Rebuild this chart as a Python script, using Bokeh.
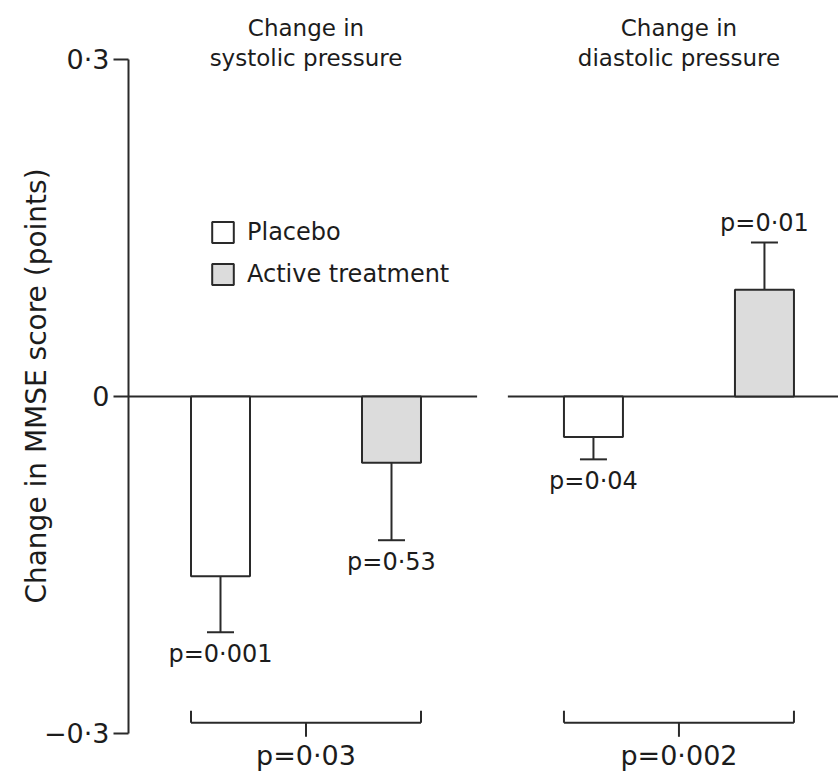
from bokeh.plotting import figure
from bokeh.models import Range1d, FixedTicker, Legend, LegendItem
from bokeh.core.properties import value
from bokeh.embed import file_html
from bokeh.resources import INLINE

# ---------------- data ----------------
groups = ["systolic", "diastolic"]
title_line1 = ["Change in", "Change in"]
title_line2 = ["systolic pressure", "diastolic pressure"]
series = ["Placebo", "Active treatment"]
placebo_mean = [-0.160, -0.036]
placebo_err_end = [-0.210, -0.056]
active_mean = [-0.059, 0.095]
active_err_end = [-0.128, 0.137]
placebo_p = ["p=0·001", "p=0·04"]
active_p = ["p=0·53", "p=0·01"]
group_p = ["p=0·03", "p=0·002"]
y_ticks = [-0.3, 0, 0.3]
y_tick_labels = ["−0·3", "0", "0·3"]

# ---------------- layout / style ----------------
FONT = value("DejaVu Sans")
INK = "#1c1c1c"
LINE = "#2a2a2a"
GROUP_STEP = 2.181
BAR_W = 0.345
ZERO_GAP = 0.09

p = figure(width=838, height=771,
           x_range=Range1d(-0.538, 3.614), y_range=Range1d(-0.3339, 0.3525),
           output_backend="svg", toolbar_location=None, x_axis_type=None,
           min_border_left=128, min_border_right=0, min_border_top=0, min_border_bottom=0)
p.outline_line_color = None
p.ygrid.visible = False
p.background_fill_color = "white"

x_pl = [gi * GROUP_STEP + 0 for gi in range(len(groups))]
x_ac = [gi * GROUP_STEP + 1 for gi in range(len(groups))]
centers = [(a + b) / 2 for a, b in zip(x_pl, x_ac)]

# zero line, broken between the two groups
xr = p.x_range
mid = (x_ac[0] + x_pl[1]) / 2
p.segment(x0=[xr.start, mid + ZERO_GAP], y0=[0, 0], x1=[mid - ZERO_GAP, xr.end], y1=[0, 0],
          line_color=LINE, line_width=2)

# bars
r_pl = p.vbar(x=x_pl, top=placebo_mean, bottom=0, width=BAR_W,
              fill_color="white", line_color=LINE, line_width=2)
r_ac = p.vbar(x=x_ac, top=active_mean, bottom=0, width=BAR_W,
              fill_color="#dcdcdc", line_color=LINE, line_width=2)

# error bars (one-sided, away from zero)
xs_all = x_pl + x_ac
means_all = placebo_mean + active_mean
errs_all = placebo_err_end + active_err_end
p.segment(x0=xs_all, y0=means_all, x1=xs_all, y1=errs_all, line_color=LINE, line_width=2)
p.scatter(x=xs_all, y=errs_all, marker="dash", size=27, line_color=LINE, line_width=2)

# p-values at bars
labels_all = placebo_p + active_p
neg = [(x, e - 0.007, t) for x, e, t in zip(xs_all, errs_all, labels_all) if e < 0]
pos = [(x, e + 0.017, t) for x, e, t in zip(xs_all, errs_all, labels_all) if e >= 0]
p.text(x=[a for a, _, _ in neg], y=[b for _, b, _ in neg], text=[c for _, _, c in neg],
       text_align="center", text_baseline="top", text_font=FONT,
       text_font_size="24px", text_color=INK)
p.text(x=[a for a, _, _ in pos], y=[b for _, b, _ in pos], text=[c for _, _, c in pos],
       text_align="center", text_baseline="alphabetic", text_font=FONT,
       text_font_size="24px", text_color=INK)

# group titles
p.text(x=centers, y=[0.328] * len(centers), text=title_line1, text_align="center",
       text_baseline="alphabetic", text_font=FONT, text_font_size="23px", text_color=INK)
p.text(x=centers, y=[0.301] * len(centers), text=title_line2, text_align="center",
       text_baseline="alphabetic", text_font=FONT, text_font_size="23px", text_color=INK)

# brackets with group comparison p-values
left = [x - BAR_W / 2 for x in x_pl]
right = [x + BAR_W / 2 for x in x_ac]
yb, yb_end, yb_tick = -0.2905, -0.2798, -0.3030
bx0, by0, bx1, by1 = [], [], [], []
for l, r, c in zip(left, right, centers):
    bx0 += [l, l, r, c]
    by0 += [yb, yb_end, yb_end, yb]
    bx1 += [r, l, r, c]
    by1 += [yb, yb, yb, yb_tick]
p.segment(x0=bx0, y0=by0, x1=bx1, y1=by1, line_color=LINE, line_width=2)
p.text(x=centers, y=[-0.3063] * len(centers), text=group_p, text_align="center",
       text_baseline="top", text_font=FONT, text_font_size="27px", text_color=INK)

# y axis
ax = p.yaxis[0]
ax.ticker = FixedTicker(ticks=y_ticks)
ax.major_label_overrides = dict(zip(y_ticks, y_tick_labels))
ax.bounds = (-0.3, 0.3)
ax.axis_line_width = 2
ax.axis_line_color = LINE
ax.major_tick_line_width = 2
ax.major_tick_line_color = LINE
ax.major_tick_out = 15
ax.major_tick_in = 0
ax.minor_tick_out = 0
ax.minor_tick_in = 0
ax.major_label_text_font = "DejaVu Sans"
ax.major_label_text_font_size = "27px"
ax.major_label_text_color = INK
ax.major_label_standoff = 4
ax.axis_label = "Change in MMSE score (points)"
ax.axis_label_text_font = "DejaVu Sans"
ax.axis_label_text_font_size = "28px"
ax.axis_label_text_font_style = "normal"
ax.axis_label_text_color = INK
ax.axis_label_standoff = -12

# legend
legend = Legend(items=[LegendItem(label=series[0], renderers=[r_pl]),
                       LegendItem(label=series[1], renderers=[r_ac])],
                location=(81, 483), glyph_width=27, glyph_height=26, label_standoff=11,
                spacing=14, padding=0, margin=0, border_line_color=None,
                background_fill_alpha=0, label_text_font="DejaVu Sans",
                label_text_font_size="24px", label_text_color=INK, label_height=26)
p.add_layout(legend)

open("out.html", "w").write(file_html(p, INLINE))
